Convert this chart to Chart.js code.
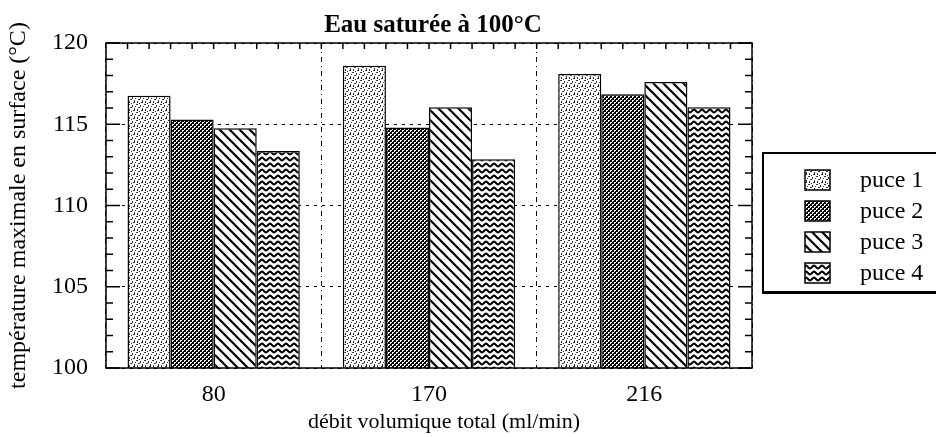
<!DOCTYPE html>
<html>
<head>
<meta charset="utf-8">
<script src="https://cdn.jsdelivr.net/npm/chart.js@4/dist/chart.umd.min.js"></script>
<style>
  html, body { margin: 0; padding: 0; background: #fff; }
  #wrap { width: 936px; height: 437px; }
</style>
</head>
<body>
<div id="wrap"><canvas id="c" width="936" height="437"></canvas></div>
<script>
// Flow rates (ml/min) and maximum surface temperature (°C) per chip
const flowRates = ['80', '170', '216'];
const chipNames = ['puce 1', 'puce 2', 'puce 3', 'puce 4'];
const puce1 = [116.75, 118.6, 118.1];
const puce2 = [115.3, 114.8, 116.85];
const puce3 = [114.75, 116.05, 117.6];
const puce4 = [113.35, 112.85, 116.05];
const yMin = 100;
const yMax = 120;
const yStep = 5;
const xAxisTitle = 'débit volumique total (ml/min)';

const SERIF = '"Liberation Serif", "Times New Roman", serif';
const canvas = document.getElementById('c');
const ctx0 = canvas.getContext('2d');

// Monochrome fill patterns, one per chip
function makePattern(w, h, draw) {
  const c = document.createElement('canvas');
  c.width = w; c.height = h;
  const g = c.getContext('2d');
  g.fillStyle = '#fff';
  g.fillRect(0, 0, w, h);
  g.fillStyle = '#000';
  g.strokeStyle = '#000';
  draw(g, w, h);
  return ctx0.createPattern(c, 'repeat');
}

// light stipple
const stipple = makePattern(8, 8, g => {
  g.fillStyle = '#333';
  [[0,0,2,1],[4,1,1,2],[2,3,2,1],[6,4,1,2],[1,5,1,2],[5,6,2,1],[3,7,1,1],[7,2,1,1]]
    .forEach(([x, y, w, h]) => g.fillRect(x, y, w, h));
});
// dense cross-hatch
const crossHatch = makePattern(4, 4, g => {
  g.fillRect(0, 0, 4, 4);
  g.fillStyle = '#fff';
  [[0,0],[1,0],[0,1],[2,2],[3,2],[2,3]].forEach(([x, y]) => g.fillRect(x, y, 1, 1));
});
// back-slash diagonal stripes
const diagonal = makePattern(10, 10, g => {
  g.lineWidth = 2.2;
  for (let k = -1; k <= 1; k++) {
    g.beginPath();
    g.moveTo(-2, -2 + k * 10);
    g.lineTo(12, 12 + k * 10);
    g.stroke();
  }
});
// wavy lines
const wavy = makePattern(8, 6, g => {
  g.lineWidth = 2;
  g.beginPath();
  for (let x = -1; x <= 9; x += 0.5) {
    const y = 3 + 1.4 * Math.sin(2 * Math.PI * x / 8);
    if (x === -1) g.moveTo(x, y); else g.lineTo(x, y);
  }
  g.stroke();
});

const fills = [stipple, crossHatch, diagonal, wavy];
const series = [puce1, puce2, puce3, puce4];

// White page background
const background = {
  id: 'background',
  beforeDraw(chart) {
    const { ctx, width, height } = chart;
    ctx.save();
    ctx.fillStyle = '#fff';
    ctx.fillRect(0, 0, width, height);
    ctx.restore();
  }
};

// Plot frame, inward tick marks, chart title and x-axis title
const frame = {
  id: 'frame',
  afterDatasetsDraw(chart) {
    const { ctx, chartArea: a, scales: { x, y } } = chart;
    ctx.save();
    ctx.strokeStyle = '#000';
    ctx.lineWidth = 1.5;
    ctx.strokeRect(a.left, a.top, a.right - a.left, a.bottom - a.top);
    const seg = (x1, y1, x2, y2) => { ctx.beginPath(); ctx.moveTo(x1, y1); ctx.lineTo(x2, y2); ctx.stroke(); };
    for (let v = yMin; v <= yMax; v++) {
      const py = y.getPixelForValue(v);
      const len = v % yStep === 0 ? 14 : 7;
      seg(a.left, py, a.left + len, py);
      seg(a.right - len, py, a.right, py);
    }
    for (let k = 1; k < flowRates.length * 10; k++) {
      const px = x.getPixelForValue(-0.5 + k / 10);
      seg(px, a.top, px, a.top + 6);
    }
    const mid = (a.left + a.right) / 2;
    ctx.fillStyle = '#000';
    ctx.font = 'bold 25px ' + SERIF;
    ctx.textAlign = 'center';
    ctx.textBaseline = 'alphabetic';
    ctx.fillText('Eau saturée à 100°C', mid + 4, 32);
    ctx.font = '22px ' + SERIF;
    ctx.fillText(xAxisTitle, mid + 15, 428);
    ctx.restore();
  }
};

// Boxed legend with a drop shadow, right of the plot
const boxLegend = {
  id: 'boxLegend',
  afterDraw(chart) {
    const { ctx, chartArea: a } = chart;
    const left = a.right + 10;
    const top = 152;
    ctx.save();
    ctx.fillStyle = '#000';
    ctx.fillRect(left, top, 220, 142);
    ctx.fillStyle = '#fff';
    ctx.fillRect(left + 2, top + 2, 220, 137);
    chart.data.datasets.forEach((ds, i) => {
      const cy = 180 + i * 31;
      ctx.fillStyle = ds.backgroundColor;
      ctx.fillRect(left + 43, cy - 10, 25, 20);
      ctx.strokeStyle = '#000';
      ctx.lineWidth = 1.5;
      ctx.strokeRect(left + 43, cy - 10, 25, 20);
      ctx.fillStyle = '#000';
      ctx.font = '24px ' + SERIF;
      ctx.textAlign = 'left';
      ctx.textBaseline = 'middle';
      ctx.fillText(ds.label, left + 98, cy + 1);
    });
    ctx.restore();
  }
};

new Chart(canvas, {
  type: 'bar',
  data: {
    labels: flowRates,
    datasets: series.map((values, i) => ({
      label: chipNames[i],
      data: values,
      backgroundColor: fills[i],
      borderColor: '#000',
      borderWidth: 1.5,
      barPercentage: 1,
      categoryPercentage: 0.8
    }))
  },
  options: {
    responsive: false,
    animation: false,
    devicePixelRatio: 1,
    layout: { padding: { top: 43, right: 184, bottom: 0, left: 0 } },
    plugins: {
      legend: { display: false },
      title: { display: false },
      tooltip: { enabled: false }
    },
    scales: {
      x: {
        afterFit(scale) { scale.height = 69; },
        grid: { color: '#000', lineWidth: 1, drawTicks: false, offset: true },
        border: { display: false, dash: [5, 4, 1, 4] },
        ticks: { color: '#000', font: { family: SERIF, size: 24 }, padding: 12, maxRotation: 0 },
        title: { display: false }
      },
      y: {
        min: yMin,
        max: yMax,
        afterFit(scale) { scale.width = 106; },
        grid: { color: '#000', lineWidth: 1, drawTicks: false },
        border: { display: false, dash: [3, 5] },
        ticks: { stepSize: yStep, color: '#000', font: { family: SERIF, size: 24 }, padding: 18 },
        title: {
          display: true,
          text: 'température maximale en surface (°C)',
          color: '#000',
          font: { family: SERIF, size: 24 },
          padding: { top: 4, bottom: 0 }
        }
      }
    }
  },
  plugins: [background, frame, boxLegend]
});
</script>
</body>
</html>
